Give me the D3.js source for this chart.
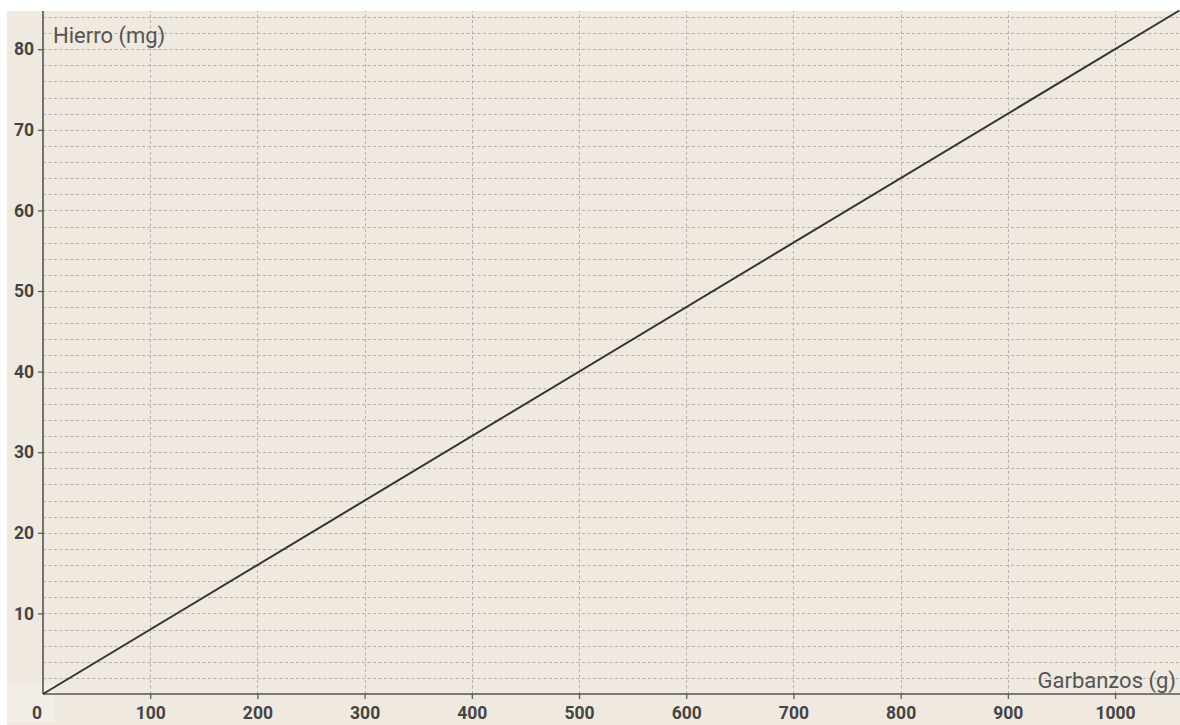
<!DOCTYPE html>
<html>
<head>
<meta charset="utf-8">
<script src="https://cdn.jsdelivr.net/npm/d3@7"></script>
<style>
  html, body { margin: 0; padding: 0; background: #ffffff; }
  svg { display: block; }
</style>
</head>
<body>
<svg id="chart" width="1180" height="725"></svg>
<script>
// ---- data ----
const xTicks = [100, 200, 300, 400, 500, 600, 700, 800, 900, 1000];
const yTicks = [10, 20, 30, 40, 50, 60, 70, 80];
const yGrid = d3.range(2, 85, 2);
const lineX = [0, 1060];
const lineY = [0, 84.8];
const xLabel = "Garbanzos (g)";
const yLabel = "Hierro (mg)";
const xDomain = [0, 1060.6];
const yDomain = [0, 84.74];

// ---- layout ----
const W = 1180, H = 725;
const svg = d3.select("#chart");
const bgLeft = 7, bgTop = 11;
const x = d3.scaleLinear().domain(xDomain).range([43, 1180]);
const y = d3.scaleLinear().domain(yDomain).range([694, 11]);
const tickFont = 17.5;

svg.append("rect").attr("x", bgLeft).attr("y", bgTop)
  .attr("width", W - bgLeft).attr("height", H - bgTop).attr("fill", "#efe9df");

// faint lighter patch behind origin label
svg.append("rect").attr("x", 7).attr("y", 684).attr("width", 48).attr("height", 38)
  .attr("fill", "#f3efe7");

const grid = svg.append("g").attr("stroke", "#b5b1aa").attr("stroke-width", 1)
  .attr("stroke-dasharray", "3,2.5");
grid.selectAll("line.h").data(yGrid).join("line").attr("class", "h")
  .attr("x1", x(0)).attr("x2", W)
  .attr("y1", d => Math.round(y(d)) + 0.5).attr("y2", d => Math.round(y(d)) + 0.5);
grid.selectAll("line.v").data(xTicks).join("line").attr("class", "v")
  .attr("y1", y(0)).attr("y2", bgTop)
  .attr("x1", d => Math.round(x(d)) + 0.5).attr("x2", d => Math.round(x(d)) + 0.5);

// axes
const xAxis = d3.axisBottom(x).tickValues(xTicks).tickSize(5).tickPadding(8).tickFormat(d3.format("d"));
const yAxis = d3.axisLeft(y).tickValues(yTicks).tickSize(5).tickPadding(4).tickFormat(d3.format("d"));

const gx = svg.append("g").attr("transform", `translate(0,${y(0)})`).call(xAxis);
const gy = svg.append("g").attr("transform", `translate(${x(0)},0)`).call(yAxis);
[gx, gy].forEach(g => {
  g.select(".domain").remove();
  g.selectAll(".tick line").attr("stroke", "#555").attr("stroke-width", 1.2);
  g.selectAll(".tick text").attr("fill", "#444").attr("font-family", "Roboto, sans-serif")
    .attr("font-weight", "bold").attr("font-size", tickFont);
});

svg.append("line").attr("x1", x(0)).attr("x2", W).attr("y1", y(0)).attr("y2", y(0))
  .attr("stroke", "#555").attr("stroke-width", 1.6);
svg.append("line").attr("x1", x(0)).attr("x2", x(0)).attr("y1", y(0)).attr("y2", bgTop)
  .attr("stroke", "#555").attr("stroke-width", 1.6);

// origin label
svg.append("text").attr("x", 37).attr("y", 719).attr("text-anchor", "middle")
  .attr("fill", "#444").attr("font-family", "Roboto, sans-serif").attr("font-weight", "bold")
  .attr("font-size", tickFont).text("0");

// data line
const pts = lineX.map((v, i) => [v, lineY[i]]);
svg.append("path").datum(pts)
  .attr("d", d3.line().x(d => x(d[0])).y(d => y(d[1])))
  .attr("fill", "none").attr("stroke", "#333").attr("stroke-width", 2);

// axis labels
svg.append("text").attr("x", 53).attr("y", 43).attr("fill", "#555")
  .attr("font-family", "Roboto, sans-serif").attr("font-size", 22).text(yLabel);
svg.append("text").attr("x", 1176).attr("y", 688).attr("text-anchor", "end").attr("fill", "#555")
  .attr("font-family", "Roboto, sans-serif").attr("font-size", 22).text(xLabel);
</script>
</body>
</html>
